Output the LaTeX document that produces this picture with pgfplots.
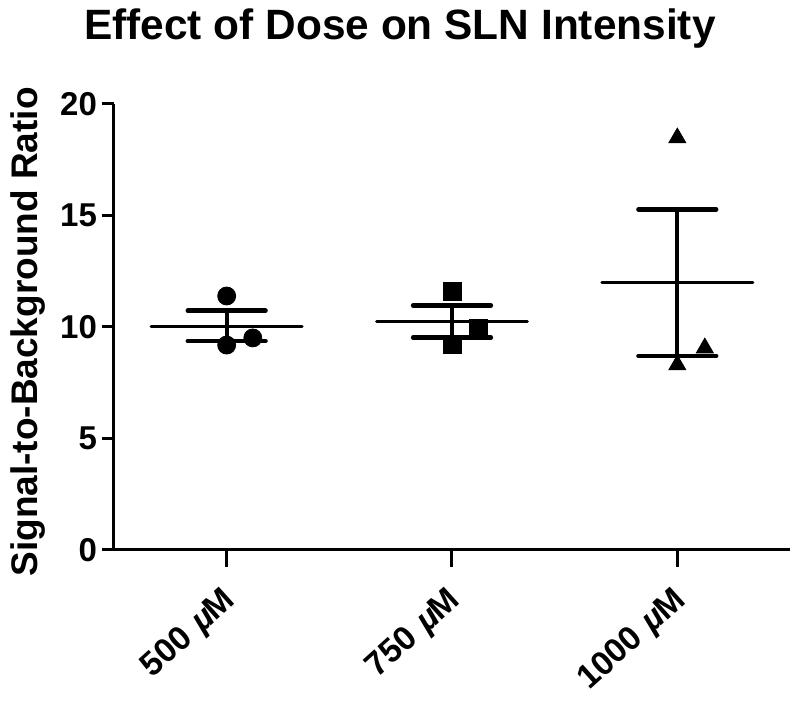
\documentclass[border=0pt]{standalone}
\usepackage{pgfplots}
\pgfplotsset{compat=1.18}
\usepackage{fontspec}
\setmainfont{Liberation Sans}
\newfontfamily\mufont{Liberation Sans}[FakeSlant=0.2]
\begin{document}
\begin{tikzpicture}
\begin{axis}[
  scale only axis,
  width=338pt, height=223pt,
  xmin=-0.5, xmax=2.5,
  ymin=0, ymax=20,
  axis x line=bottom, axis y line=left,
  axis line style={line width=1.5pt, -},
  tick align=outside,
  major tick length=6pt,
  tick style={line width=1.5pt, black},
  xtick={0,1,2},
  xticklabels={500 {\mufont µ}M, 750 {\mufont µ}M, 1000 {\mufont µ}M},
  xtick style={/pgfplots/major tick length=8.5pt},
  ytick={0,5,10,15,20},
  /pgf/number format/assume math mode=true,
  yticklabel style={font=\fontsize{16.5}{19}\selectfont\bfseries, xshift=1pt},
  xticklabel style={font=\fontsize{16.8}{20}\selectfont\bfseries, rotate=42, anchor=north east, xshift=-6.5pt, yshift=-3pt},
  ylabel={Signal-to-Background Ratio},
  ylabel style={font=\fontsize{18.5}{22}\selectfont\bfseries, at={(axis description cs:-0.127,0.489)}, anchor=center, rotate=0},
  title={Effect of Dose on SLN Intensity},
  title style={font=\fontsize{21.2}{25}\selectfont\bfseries, at={(axis description cs:0.423,1.1166)}, anchor=base},
  clip=false,
  unbounded coords=jump,
]
% mean lines
\addplot[black, line width=1.5pt, line cap=round] coordinates {
 (-0.335,10.04) (0.335,10.04) (nan,nan)
 (0.665,10.25) (1.335,10.25) (nan,nan)
 (1.665,11.99) (2.335,11.99)};
% SEM vertical bars
\addplot[black, line width=2pt] coordinates {
 (0,9.37) (0,10.73) (nan,nan)
 (1,9.52) (1,10.97) (nan,nan)
 (2,8.70) (2,15.27)};
% SEM caps
\addplot[black, line width=2.4pt, line cap=round] coordinates {
 (-0.172,10.73) (0.172,10.73) (nan,nan)
 (-0.172,9.37) (0.172,9.37) (nan,nan)
 (0.828,10.97) (1.172,10.97) (nan,nan)
 (0.828,9.52) (1.172,9.52) (nan,nan)
 (1.828,15.27) (2.172,15.27) (nan,nan)
 (1.828,8.70) (2.172,8.70)};
% data points
\addplot[only marks, mark=*, mark size=4.5pt, black] coordinates {
 (0,11.39) (0,9.19) (0.116,9.51)};
\addplot[only marks, mark=square*, mark size=4.5pt, black] coordinates {
 (1,11.61) (1,9.24) (1.118,9.95)};
\addplot[only marks, mark=triangle*, mark size=4.9pt, black] coordinates {
 (2,18.48) (2,8.30) (2.122,9.06)};
\end{axis}
\pgfresetboundingbox
\path[use as bounding box] (-57pt,-75.5pt) rectangle (343pt,275pt);
\end{tikzpicture}
\end{document}
